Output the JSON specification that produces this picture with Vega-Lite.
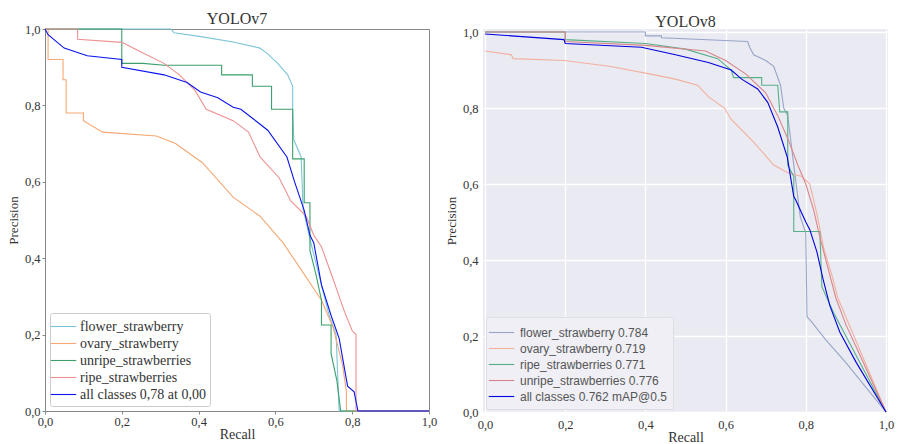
{
  "$schema": "https://vega.github.io/schema/vega-lite/v6.json",
  "padding": {"left": 6, "top": 10, "right": 5, "bottom": 0},
  "spacing": 7,
  "background": "white",
  "datasets": {
    "v7": [
      {"series":"flower_strawberry","idx":0,"recall":0,"precision":1},
      {"series":"flower_strawberry","idx":1,"recall":0.328,"precision":1},
      {"series":"flower_strawberry","idx":2,"recall":0.336,"precision":0.99},
      {"series":"flower_strawberry","idx":3,"recall":0.406,"precision":0.98},
      {"series":"flower_strawberry","idx":4,"recall":0.49,"precision":0.966},
      {"series":"flower_strawberry","idx":5,"recall":0.56,"precision":0.95},
      {"series":"flower_strawberry","idx":6,"recall":0.58,"precision":0.935},
      {"series":"flower_strawberry","idx":7,"recall":0.606,"precision":0.91},
      {"series":"flower_strawberry","idx":8,"recall":0.632,"precision":0.88},
      {"series":"flower_strawberry","idx":9,"recall":0.645,"precision":0.85},
      {"series":"flower_strawberry","idx":10,"recall":0.645,"precision":0.79},
      {"series":"flower_strawberry","idx":11,"recall":0.648,"precision":0.71},
      {"series":"flower_strawberry","idx":12,"recall":0.667,"precision":0.665},
      {"series":"flower_strawberry","idx":13,"recall":0.672,"precision":0.53},
      {"series":"flower_strawberry","idx":14,"recall":0.69,"precision":0.45},
      {"series":"flower_strawberry","idx":15,"recall":0.72,"precision":0.33},
      {"series":"flower_strawberry","idx":16,"recall":0.74,"precision":0.25},
      {"series":"flower_strawberry","idx":17,"recall":0.758,"precision":0.2},
      {"series":"flower_strawberry","idx":18,"recall":0.762,"precision":0.1},
      {"series":"flower_strawberry","idx":19,"recall":0.766,"precision":0},
      {"series":"flower_strawberry","idx":20,"recall":1,"precision":0},

      {"series":"ovary_strawberry","idx":0,"recall":0,"precision":1},
      {"series":"ovary_strawberry","idx":1,"recall":0.008,"precision":1},
      {"series":"ovary_strawberry","idx":2,"recall":0.008,"precision":0.92},
      {"series":"ovary_strawberry","idx":3,"recall":0.047,"precision":0.92},
      {"series":"ovary_strawberry","idx":4,"recall":0.047,"precision":0.867},
      {"series":"ovary_strawberry","idx":5,"recall":0.055,"precision":0.867},
      {"series":"ovary_strawberry","idx":6,"recall":0.055,"precision":0.78},
      {"series":"ovary_strawberry","idx":7,"recall":0.1,"precision":0.78},
      {"series":"ovary_strawberry","idx":8,"recall":0.1,"precision":0.76},
      {"series":"ovary_strawberry","idx":9,"recall":0.15,"precision":0.73},
      {"series":"ovary_strawberry","idx":10,"recall":0.29,"precision":0.72},
      {"series":"ovary_strawberry","idx":11,"recall":0.34,"precision":0.70},
      {"series":"ovary_strawberry","idx":12,"recall":0.41,"precision":0.65},
      {"series":"ovary_strawberry","idx":13,"recall":0.49,"precision":0.56},
      {"series":"ovary_strawberry","idx":14,"recall":0.56,"precision":0.51},
      {"series":"ovary_strawberry","idx":15,"recall":0.62,"precision":0.44},
      {"series":"ovary_strawberry","idx":16,"recall":0.667,"precision":0.37},
      {"series":"ovary_strawberry","idx":17,"recall":0.72,"precision":0.29},
      {"series":"ovary_strawberry","idx":18,"recall":0.75,"precision":0.22},
      {"series":"ovary_strawberry","idx":19,"recall":0.775,"precision":0.12},
      {"series":"ovary_strawberry","idx":20,"recall":0.785,"precision":0.05},
      {"series":"ovary_strawberry","idx":21,"recall":0.785,"precision":0},
      {"series":"ovary_strawberry","idx":22,"recall":1,"precision":0},

      {"series":"unripe_strawberries","idx":0,"recall":0,"precision":1},
      {"series":"unripe_strawberries","idx":1,"recall":0.2,"precision":1},
      {"series":"unripe_strawberries","idx":2,"recall":0.2,"precision":0.91},
      {"series":"unripe_strawberries","idx":3,"recall":0.255,"precision":0.91},
      {"series":"unripe_strawberries","idx":4,"recall":0.31,"precision":0.905},
      {"series":"unripe_strawberries","idx":5,"recall":0.46,"precision":0.905},
      {"series":"unripe_strawberries","idx":6,"recall":0.46,"precision":0.88},
      {"series":"unripe_strawberries","idx":7,"recall":0.54,"precision":0.88},
      {"series":"unripe_strawberries","idx":8,"recall":0.54,"precision":0.85},
      {"series":"unripe_strawberries","idx":9,"recall":0.59,"precision":0.85},
      {"series":"unripe_strawberries","idx":10,"recall":0.59,"precision":0.79},
      {"series":"unripe_strawberries","idx":11,"recall":0.645,"precision":0.79},
      {"series":"unripe_strawberries","idx":12,"recall":0.645,"precision":0.66},
      {"series":"unripe_strawberries","idx":13,"recall":0.675,"precision":0.66},
      {"series":"unripe_strawberries","idx":14,"recall":0.675,"precision":0.545},
      {"series":"unripe_strawberries","idx":15,"recall":0.69,"precision":0.545},
      {"series":"unripe_strawberries","idx":16,"recall":0.69,"precision":0.42},
      {"series":"unripe_strawberries","idx":17,"recall":0.705,"precision":0.36},
      {"series":"unripe_strawberries","idx":18,"recall":0.72,"precision":0.29},
      {"series":"unripe_strawberries","idx":19,"recall":0.72,"precision":0.225},
      {"series":"unripe_strawberries","idx":20,"recall":0.745,"precision":0.225},
      {"series":"unripe_strawberries","idx":21,"recall":0.745,"precision":0.15},
      {"series":"unripe_strawberries","idx":22,"recall":0.76,"precision":0.08},
      {"series":"unripe_strawberries","idx":23,"recall":0.77,"precision":0},
      {"series":"unripe_strawberries","idx":24,"recall":1,"precision":0},

      {"series":"ripe_strawberries","idx":0,"recall":0,"precision":1},
      {"series":"ripe_strawberries","idx":1,"recall":0.085,"precision":1},
      {"series":"ripe_strawberries","idx":2,"recall":0.085,"precision":0.973},
      {"series":"ripe_strawberries","idx":3,"recall":0.2,"precision":0.965},
      {"series":"ripe_strawberries","idx":4,"recall":0.25,"precision":0.94},
      {"series":"ripe_strawberries","idx":5,"recall":0.31,"precision":0.91},
      {"series":"ripe_strawberries","idx":6,"recall":0.35,"precision":0.88},
      {"series":"ripe_strawberries","idx":7,"recall":0.39,"precision":0.84},
      {"series":"ripe_strawberries","idx":8,"recall":0.42,"precision":0.79},
      {"series":"ripe_strawberries","idx":9,"recall":0.49,"precision":0.76},
      {"series":"ripe_strawberries","idx":10,"recall":0.53,"precision":0.73},
      {"series":"ripe_strawberries","idx":11,"recall":0.56,"precision":0.665},
      {"series":"ripe_strawberries","idx":12,"recall":0.61,"precision":0.61},
      {"series":"ripe_strawberries","idx":13,"recall":0.64,"precision":0.55},
      {"series":"ripe_strawberries","idx":14,"recall":0.68,"precision":0.51},
      {"series":"ripe_strawberries","idx":15,"recall":0.70,"precision":0.46},
      {"series":"ripe_strawberries","idx":16,"recall":0.72,"precision":0.43},
      {"series":"ripe_strawberries","idx":17,"recall":0.745,"precision":0.36},
      {"series":"ripe_strawberries","idx":18,"recall":0.78,"precision":0.26},
      {"series":"ripe_strawberries","idx":19,"recall":0.80,"precision":0.21},
      {"series":"ripe_strawberries","idx":20,"recall":0.81,"precision":0.2},
      {"series":"ripe_strawberries","idx":21,"recall":0.81,"precision":0},
      {"series":"ripe_strawberries","idx":22,"recall":1,"precision":0},

      {"series":"all classes 0,78 at 0,00","idx":0,"recall":0,"precision":1},
      {"series":"all classes 0,78 at 0,00","idx":1,"recall":0.008,"precision":0.985},
      {"series":"all classes 0,78 at 0,00","idx":2,"recall":0.05,"precision":0.95},
      {"series":"all classes 0,78 at 0,00","idx":3,"recall":0.11,"precision":0.93},
      {"series":"all classes 0,78 at 0,00","idx":4,"recall":0.2,"precision":0.92},
      {"series":"all classes 0,78 at 0,00","idx":5,"recall":0.2,"precision":0.9},
      {"series":"all classes 0,78 at 0,00","idx":6,"recall":0.31,"precision":0.88},
      {"series":"all classes 0,78 at 0,00","idx":7,"recall":0.37,"precision":0.86},
      {"series":"all classes 0,78 at 0,00","idx":8,"recall":0.405,"precision":0.835},
      {"series":"all classes 0,78 at 0,00","idx":9,"recall":0.45,"precision":0.82},
      {"series":"all classes 0,78 at 0,00","idx":10,"recall":0.49,"precision":0.795},
      {"series":"all classes 0,78 at 0,00","idx":11,"recall":0.51,"precision":0.79},
      {"series":"all classes 0,78 at 0,00","idx":12,"recall":0.58,"precision":0.735},
      {"series":"all classes 0,78 at 0,00","idx":13,"recall":0.63,"precision":0.665},
      {"series":"all classes 0,78 at 0,00","idx":14,"recall":0.65,"precision":0.6},
      {"series":"all classes 0,78 at 0,00","idx":15,"recall":0.675,"precision":0.525},
      {"series":"all classes 0,78 at 0,00","idx":16,"recall":0.69,"precision":0.46},
      {"series":"all classes 0,78 at 0,00","idx":17,"recall":0.70,"precision":0.44},
      {"series":"all classes 0,78 at 0,00","idx":18,"recall":0.72,"precision":0.33},
      {"series":"all classes 0,78 at 0,00","idx":19,"recall":0.745,"precision":0.25},
      {"series":"all classes 0,78 at 0,00","idx":20,"recall":0.766,"precision":0.19},
      {"series":"all classes 0,78 at 0,00","idx":21,"recall":0.788,"precision":0.065},
      {"series":"all classes 0,78 at 0,00","idx":22,"recall":0.805,"precision":0.05},
      {"series":"all classes 0,78 at 0,00","idx":23,"recall":0.815,"precision":0},
      {"series":"all classes 0,78 at 0,00","idx":24,"recall":1,"precision":0}
    ],
    "v8": [
      {"series":"flower_strawberry 0.784","idx":0,"recall":0,"precision":1},
      {"series":"flower_strawberry 0.784","idx":1,"recall":0.40,"precision":1},
      {"series":"flower_strawberry 0.784","idx":2,"recall":0.40,"precision":0.99},
      {"series":"flower_strawberry 0.784","idx":3,"recall":0.44,"precision":0.99},
      {"series":"flower_strawberry 0.784","idx":4,"recall":0.44,"precision":0.985},
      {"series":"flower_strawberry 0.784","idx":5,"recall":0.655,"precision":0.975},
      {"series":"flower_strawberry 0.784","idx":6,"recall":0.66,"precision":0.96},
      {"series":"flower_strawberry 0.784","idx":7,"recall":0.67,"precision":0.94},
      {"series":"flower_strawberry 0.784","idx":8,"recall":0.70,"precision":0.925},
      {"series":"flower_strawberry 0.784","idx":9,"recall":0.72,"precision":0.91},
      {"series":"flower_strawberry 0.784","idx":10,"recall":0.737,"precision":0.86},
      {"series":"flower_strawberry 0.784","idx":11,"recall":0.745,"precision":0.80},
      {"series":"flower_strawberry 0.784","idx":12,"recall":0.755,"precision":0.78},
      {"series":"flower_strawberry 0.784","idx":13,"recall":0.77,"precision":0.65},
      {"series":"flower_strawberry 0.784","idx":14,"recall":0.786,"precision":0.515},
      {"series":"flower_strawberry 0.784","idx":15,"recall":0.80,"precision":0.47},
      {"series":"flower_strawberry 0.784","idx":16,"recall":0.803,"precision":0.25},
      {"series":"flower_strawberry 0.784","idx":17,"recall":0.81,"precision":0.243},
      {"series":"flower_strawberry 0.784","idx":18,"recall":0.85,"precision":0.19},
      {"series":"flower_strawberry 0.784","idx":19,"recall":0.9,"precision":0.13},
      {"series":"flower_strawberry 0.784","idx":20,"recall":0.95,"precision":0.065},
      {"series":"flower_strawberry 0.784","idx":21,"recall":1,"precision":0},

      {"series":"ovary_strawberry 0.719","idx":0,"recall":0,"precision":0.95},
      {"series":"ovary_strawberry 0.719","idx":1,"recall":0.066,"precision":0.94},
      {"series":"ovary_strawberry 0.719","idx":2,"recall":0.07,"precision":0.93},
      {"series":"ovary_strawberry 0.719","idx":3,"recall":0.197,"precision":0.925},
      {"series":"ovary_strawberry 0.719","idx":4,"recall":0.31,"precision":0.91},
      {"series":"ovary_strawberry 0.719","idx":5,"recall":0.41,"precision":0.89},
      {"series":"ovary_strawberry 0.719","idx":6,"recall":0.475,"precision":0.876},
      {"series":"ovary_strawberry 0.719","idx":7,"recall":0.53,"precision":0.86},
      {"series":"ovary_strawberry 0.719","idx":8,"recall":0.557,"precision":0.83},
      {"series":"ovary_strawberry 0.719","idx":9,"recall":0.597,"precision":0.80},
      {"series":"ovary_strawberry 0.719","idx":10,"recall":0.614,"precision":0.77},
      {"series":"ovary_strawberry 0.719","idx":11,"recall":0.67,"precision":0.71},
      {"series":"ovary_strawberry 0.719","idx":12,"recall":0.72,"precision":0.65},
      {"series":"ovary_strawberry 0.719","idx":13,"recall":0.755,"precision":0.63},
      {"series":"ovary_strawberry 0.719","idx":14,"recall":0.79,"precision":0.62},
      {"series":"ovary_strawberry 0.719","idx":15,"recall":0.81,"precision":0.6},
      {"series":"ovary_strawberry 0.719","idx":16,"recall":0.828,"precision":0.52},
      {"series":"ovary_strawberry 0.719","idx":17,"recall":0.845,"precision":0.43},
      {"series":"ovary_strawberry 0.719","idx":18,"recall":0.865,"precision":0.36},
      {"series":"ovary_strawberry 0.719","idx":19,"recall":0.88,"precision":0.30},
      {"series":"ovary_strawberry 0.719","idx":20,"recall":0.92,"precision":0.2},
      {"series":"ovary_strawberry 0.719","idx":21,"recall":0.96,"precision":0.1},
      {"series":"ovary_strawberry 0.719","idx":22,"recall":1,"precision":0},

      {"series":"ripe_strawberries 0.771","idx":0,"recall":0,"precision":1},
      {"series":"ripe_strawberries 0.771","idx":1,"recall":0.2,"precision":1},
      {"series":"ripe_strawberries 0.771","idx":2,"recall":0.2,"precision":0.98},
      {"series":"ripe_strawberries 0.771","idx":3,"recall":0.4,"precision":0.97},
      {"series":"ripe_strawberries 0.771","idx":4,"recall":0.5,"precision":0.955},
      {"series":"ripe_strawberries 0.771","idx":5,"recall":0.58,"precision":0.93},
      {"series":"ripe_strawberries 0.771","idx":6,"recall":0.614,"precision":0.90},
      {"series":"ripe_strawberries 0.771","idx":7,"recall":0.62,"precision":0.88},
      {"series":"ripe_strawberries 0.771","idx":8,"recall":0.69,"precision":0.88},
      {"series":"ripe_strawberries 0.771","idx":9,"recall":0.69,"precision":0.86},
      {"series":"ripe_strawberries 0.771","idx":10,"recall":0.73,"precision":0.86},
      {"series":"ripe_strawberries 0.771","idx":11,"recall":0.735,"precision":0.79},
      {"series":"ripe_strawberries 0.771","idx":12,"recall":0.755,"precision":0.79},
      {"series":"ripe_strawberries 0.771","idx":13,"recall":0.755,"precision":0.65},
      {"series":"ripe_strawberries 0.771","idx":14,"recall":0.77,"precision":0.62},
      {"series":"ripe_strawberries 0.771","idx":15,"recall":0.77,"precision":0.475},
      {"series":"ripe_strawberries 0.771","idx":16,"recall":0.835,"precision":0.475},
      {"series":"ripe_strawberries 0.771","idx":17,"recall":0.84,"precision":0.33},
      {"series":"ripe_strawberries 0.771","idx":18,"recall":0.87,"precision":0.26},
      {"series":"ripe_strawberries 0.771","idx":19,"recall":0.92,"precision":0.16},
      {"series":"ripe_strawberries 0.771","idx":20,"recall":1,"precision":0},

      {"series":"unripe_strawberries 0.776","idx":0,"recall":0,"precision":1},
      {"series":"unripe_strawberries 0.776","idx":1,"recall":0.2,"precision":1},
      {"series":"unripe_strawberries 0.776","idx":2,"recall":0.2,"precision":0.975},
      {"series":"unripe_strawberries 0.776","idx":3,"recall":0.4,"precision":0.965},
      {"series":"unripe_strawberries 0.776","idx":4,"recall":0.55,"precision":0.95},
      {"series":"unripe_strawberries 0.776","idx":5,"recall":0.6,"precision":0.925},
      {"series":"unripe_strawberries 0.776","idx":6,"recall":0.65,"precision":0.89},
      {"series":"unripe_strawberries 0.776","idx":7,"recall":0.7,"precision":0.84},
      {"series":"unripe_strawberries 0.776","idx":8,"recall":0.73,"precision":0.78},
      {"series":"unripe_strawberries 0.776","idx":9,"recall":0.755,"precision":0.72},
      {"series":"unripe_strawberries 0.776","idx":10,"recall":0.78,"precision":0.65},
      {"series":"unripe_strawberries 0.776","idx":11,"recall":0.80,"precision":0.60},
      {"series":"unripe_strawberries 0.776","idx":12,"recall":0.82,"precision":0.53},
      {"series":"unripe_strawberries 0.776","idx":13,"recall":0.835,"precision":0.46},
      {"series":"unripe_strawberries 0.776","idx":14,"recall":0.855,"precision":0.38},
      {"series":"unripe_strawberries 0.776","idx":15,"recall":0.875,"precision":0.30},
      {"series":"unripe_strawberries 0.776","idx":16,"recall":0.9,"precision":0.23},
      {"series":"unripe_strawberries 0.776","idx":17,"recall":0.95,"precision":0.115},
      {"series":"unripe_strawberries 0.776","idx":18,"recall":1,"precision":0},

      {"series":"all classes 0.762 mAP@0.5","idx":0,"recall":0,"precision":0.995},
      {"series":"all classes 0.762 mAP@0.5","idx":1,"recall":0.197,"precision":0.98},
      {"series":"all classes 0.762 mAP@0.5","idx":2,"recall":0.2,"precision":0.97},
      {"series":"all classes 0.762 mAP@0.5","idx":3,"recall":0.39,"precision":0.96},
      {"series":"all classes 0.762 mAP@0.5","idx":4,"recall":0.475,"precision":0.94},
      {"series":"all classes 0.762 mAP@0.5","idx":5,"recall":0.557,"precision":0.92},
      {"series":"all classes 0.762 mAP@0.5","idx":6,"recall":0.614,"precision":0.9},
      {"series":"all classes 0.762 mAP@0.5","idx":7,"recall":0.64,"precision":0.876},
      {"series":"all classes 0.762 mAP@0.5","idx":8,"recall":0.68,"precision":0.85},
      {"series":"all classes 0.762 mAP@0.5","idx":9,"recall":0.705,"precision":0.815},
      {"series":"all classes 0.762 mAP@0.5","idx":10,"recall":0.73,"precision":0.75},
      {"series":"all classes 0.762 mAP@0.5","idx":11,"recall":0.754,"precision":0.67},
      {"series":"all classes 0.762 mAP@0.5","idx":12,"recall":0.77,"precision":0.567},
      {"series":"all classes 0.762 mAP@0.5","idx":13,"recall":0.774,"precision":0.56},
      {"series":"all classes 0.762 mAP@0.5","idx":14,"recall":0.80,"precision":0.50},
      {"series":"all classes 0.762 mAP@0.5","idx":15,"recall":0.81,"precision":0.48},
      {"series":"all classes 0.762 mAP@0.5","idx":16,"recall":0.828,"precision":0.42},
      {"series":"all classes 0.762 mAP@0.5","idx":17,"recall":0.843,"precision":0.35},
      {"series":"all classes 0.762 mAP@0.5","idx":18,"recall":0.86,"precision":0.28},
      {"series":"all classes 0.762 mAP@0.5","idx":19,"recall":0.885,"precision":0.21},
      {"series":"all classes 0.762 mAP@0.5","idx":20,"recall":0.926,"precision":0.13},
      {"series":"all classes 0.762 mAP@0.5","idx":21,"recall":1,"precision":0}
    ]
  },
  "resolve": {"scale": {"color": "independent", "strokeWidth": "independent", "x": "independent", "y": "independent"}, "legend": {"color": "independent", "strokeWidth": "independent"}},
  "hconcat": [
    {
      "width": 384,
      "height": 382,
      "data": {"name": "v7"},
      "title": {"text": "YOLOv7", "font": "Liberation Serif", "fontSize": 16, "fontWeight": "normal", "color": "#333", "offset": -4},
      "view": {"stroke": "#888", "strokeWidth": 1, "fill": "white"},
      "mark": {"type": "line", "interpolate": "linear"},
      "encoding": {
        "x": {"field": "recall", "type": "quantitative", "scale": {"domain": [0, 1], "nice": false, "zero": false},
          "axis": {"title": "Recall", "values": [0, 0.2, 0.4, 0.6, 0.8, 1], "labelExpr": "replace(format(datum.value, '.1f'), '.', ',')", "grid": false, "domain": false, "tickSize": 3, "tickColor": "#888", "labelPadding": 1, "titlePadding": 0, "labelFont": "Liberation Serif", "titleFont": "Liberation Serif", "labelFontSize": 12.5, "titleFontSize": 14, "titleFontWeight": "normal", "labelColor": "#333", "titleColor": "#333", "labelFlush": false}},
        "y": {"field": "precision", "type": "quantitative", "scale": {"domain": [0, 1], "nice": false, "zero": false},
          "axis": {"title": "Precision", "values": [0, 0.2, 0.4, 0.6, 0.8, 1], "labelExpr": "replace(format(datum.value, '.1f'), '.', ',')", "grid": false, "domain": false, "tickSize": 3, "tickColor": "#888", "labelPadding": 2, "titlePadding": 4, "labelFont": "Liberation Serif", "titleFont": "Liberation Serif", "labelFontSize": 12.5, "titleFontSize": 13, "titleFontWeight": "normal", "labelColor": "#333", "titleColor": "#333", "labelFlush": false}},
        "order": {"field": "idx", "type": "quantitative"},
        "color": {"field": "series", "type": "nominal", "sort": null,
          "scale": {"domain": ["flower_strawberry", "ovary_strawberry", "unripe_strawberries", "ripe_strawberries", "all classes 0,78 at 0,00"], "range": ["#7cc4d8", "#f5a873", "#3d9f6b", "#ee9090", "#0a14f0"]},
          "legend": {"title": null, "orient": "bottom-left", "offset": 5, "fillColor": "white", "strokeColor": "#cccccc", "padding": 4, "cornerRadius": 2, "labelFont": "Liberation Serif", "labelFontSize": 14, "labelColor": "#333", "symbolType": "M-1.5,0H1.5", "symbolSize": 289, "symbolStrokeWidth": 1.2, "rowPadding": 0, "labelOffset": 7}},
        "strokeWidth": {"field": "series", "type": "nominal", "sort": null,
          "scale": {"domain": ["flower_strawberry", "ovary_strawberry", "unripe_strawberries", "ripe_strawberries", "all classes 0,78 at 0,00"], "range": [1.1, 1.1, 1.1, 1.1, 3.2]},
          "legend": {"title": null, "orient": "bottom-left", "offset": 5, "fillColor": "white", "strokeColor": "#cccccc", "padding": 4, "cornerRadius": 2, "labelFont": "Liberation Serif", "labelFontSize": 14, "labelColor": "#333", "symbolType": "M-1.5,0H1.5", "symbolSize": 289, "rowPadding": 0, "labelOffset": 7}}
      }
    },
    {
      "width": 405,
      "height": 383,
      "data": {"name": "v8"},
      "title": {"text": "YOLOv8", "font": "Liberation Serif", "fontSize": 16, "fontWeight": "normal", "color": "#333", "offset": -4},
      "view": {"stroke": null, "fill": "#EAEAF2"},
      "mark": {"type": "line", "interpolate": "linear"},
      "encoding": {
        "x": {"field": "recall", "type": "quantitative", "scale": {"domain": [-0.005, 1.005], "nice": false, "zero": false},
          "axis": {"title": "Recall", "values": [0, 0.2, 0.4, 0.6, 0.8, 1], "labelExpr": "replace(format(datum.value, '.1f'), '.', ',')", "grid": true, "gridColor": "white", "gridWidth": 1.3, "domain": false, "ticks": false, "labelPadding": 6, "titlePadding": 0, "labelFont": "Liberation Serif", "titleFont": "Liberation Serif", "labelFontSize": 12.5, "titleFontSize": 14, "titleFontWeight": "normal", "labelColor": "#333", "titleColor": "#333", "labelFlush": false}},
        "y": {"field": "precision", "type": "quantitative", "scale": {"domain": [0, 1.008], "nice": false, "zero": false},
          "axis": {"title": "Precision", "values": [0, 0.2, 0.4, 0.6, 0.8, 1], "labelExpr": "replace(format(datum.value, '.1f'), '.', ',')", "grid": true, "gridColor": "white", "gridWidth": 1.3, "domain": false, "ticks": false, "labelPadding": 5, "titlePadding": 4, "labelFont": "Liberation Serif", "titleFont": "Liberation Serif", "labelFontSize": 12.5, "titleFontSize": 13, "titleFontWeight": "normal", "labelColor": "#333", "titleColor": "#333", "labelFlush": false}},
        "order": {"field": "idx", "type": "quantitative"},
        "color": {"field": "series", "type": "nominal", "sort": null,
          "scale": {"domain": ["flower_strawberry 0.784", "ovary_strawberry 0.719", "ripe_strawberries 0.771", "unripe_strawberries 0.776", "all classes 0.762 mAP@0.5"], "range": ["#98a4c8", "#f2b0a0", "#55b088", "#d9868a", "#0000e0"]},
          "legend": {"title": null, "orient": "bottom-left", "offset": 3, "fillColor": "#EFEFF5", "strokeColor": "#dddde6", "padding": 6, "cornerRadius": 2, "labelFont": "Liberation Sans", "labelFontSize": 12, "labelColor": "#555", "symbolType": "M-1.5,0H1.5", "symbolSize": 289, "rowPadding": 0, "labelOffset": 9}},
        "strokeWidth": {"field": "series", "type": "nominal", "sort": null,
          "scale": {"domain": ["flower_strawberry 0.784", "ovary_strawberry 0.719", "ripe_strawberries 0.771", "unripe_strawberries 0.776", "all classes 0.762 mAP@0.5"], "range": [1.1, 1.1, 1.1, 1.1, 3.2]},
          "legend": {"title": null, "orient": "bottom-left", "offset": 3, "fillColor": "#EFEFF5", "strokeColor": "#dddde6", "padding": 6, "cornerRadius": 2, "labelFont": "Liberation Sans", "labelFontSize": 12, "labelColor": "#555", "symbolType": "M-1.5,0H1.5", "symbolSize": 289, "rowPadding": 0, "labelOffset": 9}}
      }
    }
  ]
}
